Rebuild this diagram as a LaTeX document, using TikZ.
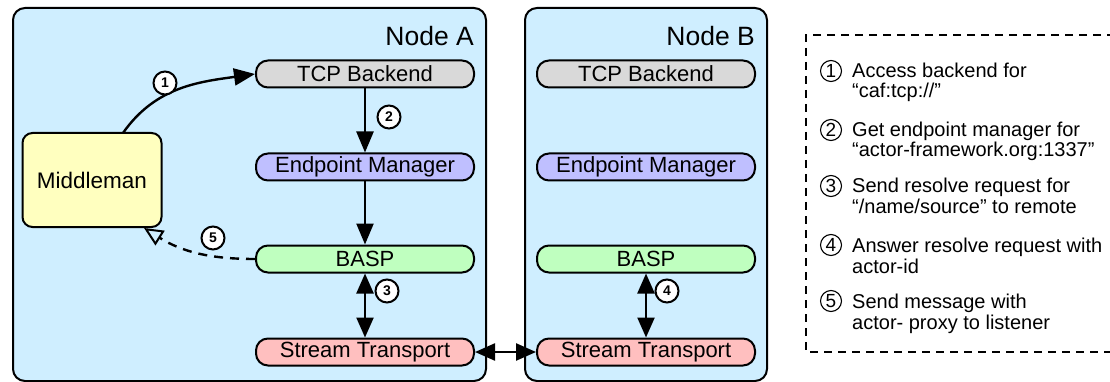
\documentclass[tikz,border=0pt]{standalone}
\usepackage{fontspec}
\setmainfont{Liberation Sans}
\usetikzlibrary{arrows.meta}
\definecolor{nodebg}{RGB}{207,238,255}
\definecolor{tcpc}{RGB}{217,217,217}
\definecolor{emc}{RGB}{191,191,255}
\definecolor{baspc}{RGB}{191,255,191}
\definecolor{stc}{RGB}{255,191,191}
\definecolor{mmc}{RGB}{255,255,191}
\tikzset{
  hostbox/.style={draw=black, line width=2pt, fill=nodebg, rounded corners=12pt},
  pill/.style={draw=black, line width=2pt, rounded corners=12pt, minimum width=218pt, minimum height=27pt, inner sep=0pt, font=\fontsize{22}{22}\selectfont},
  hostlabel/.style={anchor=base east, inner sep=0pt, font=\fontsize{26.5}{26.5}\selectfont},
  num/.style={circle, draw=black, line width=2pt, fill=white, minimum size=23pt, inner sep=0pt, font=\bfseries\fontsize{14}{14}\selectfont},
  lnum/.style={circle, draw=black, line width=1.1pt, minimum size=21pt, inner sep=0pt, font=\fontsize{19}{19}\selectfont},
  ltext/.style={anchor=base west, inner sep=0pt, align=left, font=\fontsize{20}{20.5}\selectfont},
  conn/.style={line width=2.4pt, -{Triangle[length=21pt,width=17pt]}},
  dconn/.style={line width=2.4pt, {Triangle[length=20pt,width=17pt]}-{Triangle[length=20pt,width=17pt]}},
  retconn/.style={line width=2.4pt, dash pattern=on 9pt off 7pt, -{Triangle[open,length=19pt,width=17pt,line width=2pt]}}
}
\begin{document}
\begin{tikzpicture}[x=1pt,y=1pt]
\useasboundingbox (0,0) rectangle (1110,-382);
% host boxes
\draw[hostbox] (13,-8) rectangle (486,-381);
\draw[hostbox] (525,-8) rectangle (767,-381);
\node[hostlabel] (labA) at (474,-46) {Node A};
\node[hostlabel] (labB) at (755,-46) {Node B};
% Node A components
\node[pill, fill=tcpc]  (tcpA) at (365,-74)  {TCP Backend};
\node[pill, fill=emc]   (emA)  at (365,-167) {Endpoint Manager};
\node[pill, fill=baspc] (baspA) at (365,-259) {BASP};
\node[pill, fill=stc]   (stA)  at (365,-352) {Stream Transport};
% Node B components
\node[pill, fill=tcpc]  (tcpB) at (646,-74)  {TCP Backend};
\node[pill, fill=emc]   (emB)  at (646,-167) {Endpoint Manager};
\node[pill, fill=baspc] (baspB) at (646,-259) {BASP};
\node[pill, fill=stc]   (stB)  at (646,-352) {Stream Transport};
% Middleman
\node[draw=black, line width=2pt, fill=mmc, rounded corners=10pt, minimum width=139pt, minimum height=94pt, inner sep=0pt, font=\fontsize{22.5}{22.5}\selectfont] (mm) at (92,-180) {Middleman};
\coordinate (mmtop) at (123,-133);
\coordinate (mmret) at (144,-228);
% connectors
\draw[conn] (mmtop) to[out=55,in=188] (tcpA.west);
\draw[conn] (tcpA.south) -- (emA.north);
\draw[conn] (emA.south) -- (baspA.north);
\draw[retconn] (baspA.west) to[out=180,in=-32] (mmret);
\draw[dconn] (baspA.south) -- (stA.north);
\draw[dconn] (baspB.south) -- (stB.north);
\draw[dconn] (stA.east) -- (stB.west);
% step labels
\node[num] (n1) at (165,-83) {1};
\node[num] (n2) at (389,-117) {2};
\node[num] (n3) at (387,-291) {3};
\node[num] (n4) at (667,-291) {4};
\node[num] (n5) at (213,-238) {5};
% legend
\draw[line width=1.2pt, dash pattern=on 8pt off 6pt] (1115,-35) -- (806,-35) -- (806,-352) -- (1115,-352);
\node[lnum] (l1) at (831,-71) {1};
\node[ltext] (t1) at (852,-98) {Access backend for\\``caf:tcp://''};
\node[lnum] (l2) at (831,-130) {2};
\node[ltext] (t2) at (852,-157) {Get endpoint manager for\\``actor-framework.org:1337''};
\node[lnum] (l3) at (831,-186) {3};
\node[ltext] (t3) at (852,-213) {Send resolve request for\\``/name/source'' to remote};
\node[lnum] (l4) at (831,-245) {4};
\node[ltext] (t4) at (852,-273) {Answer resolve request with\\actor-id};
\node[lnum] (l5) at (831,-301) {5};
\node[ltext] (t5) at (852,-329) {Send message with\\actor- proxy to listener};
\end{tikzpicture}
\end{document}
